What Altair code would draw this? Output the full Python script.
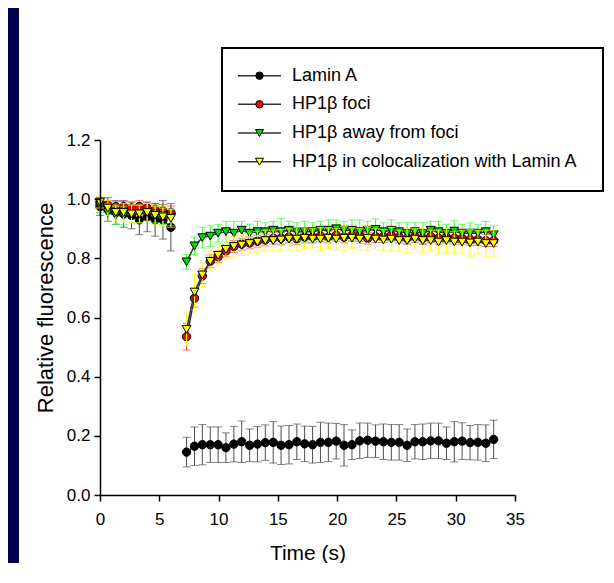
import altair as alt
import pandas as pd

# ---------------- data ----------------
t_pre = [0.00, 0.66, 1.33, 1.99, 2.66, 3.32, 3.98, 4.65, 5.31, 5.98]
t_post = [7.30, 7.97, 8.63, 9.30, 9.96, 10.62, 11.29, 11.95, 12.62, 13.28,
          13.94, 14.61, 15.27, 15.94, 16.60, 17.26, 17.93, 18.59, 19.26, 19.92,
          20.58, 21.25, 21.91, 22.58, 23.24, 23.90, 24.57, 25.23, 25.90, 26.56,
          27.22, 27.89, 28.55, 29.22, 29.88, 30.54, 31.21, 31.87, 32.54, 33.20]

series_names = ["Lamin A", "HP1β foci", "HP1β away from foci",
                "HP1β in colocalization with Lamin A"]

lamin_pre = [0.975, 0.965, 0.955, 0.950, 0.945, 0.930, 0.940, 0.930, 0.930, 0.905]
lamin_pre_err = [0.030, 0.040, 0.040, 0.045, 0.045, 0.050, 0.050, 0.055, 0.065, 0.080]
lamin_post = [0.145, 0.165, 0.170, 0.170, 0.170, 0.160, 0.172, 0.180, 0.168, 0.172,
              0.177, 0.178, 0.168, 0.170, 0.180, 0.173, 0.170, 0.178, 0.178, 0.182,
              0.168, 0.170, 0.183, 0.185, 0.182, 0.180, 0.178, 0.178, 0.168, 0.180,
              0.180, 0.183, 0.183, 0.175, 0.180, 0.182, 0.177, 0.178, 0.175, 0.188]
lamin_post_err = [0.050, 0.065, 0.068, 0.060, 0.060, 0.050, 0.060, 0.070, 0.055, 0.060,
                  0.060, 0.070, 0.065, 0.065, 0.060, 0.060, 0.062, 0.068, 0.065, 0.060,
                  0.070, 0.050, 0.060, 0.058, 0.055, 0.060, 0.060, 0.060, 0.055, 0.058,
                  0.060, 0.060, 0.060, 0.055, 0.068, 0.062, 0.058, 0.060, 0.062, 0.065]

foci_pre = [0.985, 0.980, 0.975, 0.975, 0.970, 0.975, 0.970, 0.965, 0.960, 0.955]
foci_pre_err = [0.015, 0.015, 0.018, 0.018, 0.020, 0.020, 0.020, 0.020, 0.022, 0.022]
foci_post = [0.535, 0.665, 0.740, 0.790, 0.805, 0.825, 0.840, 0.848, 0.852, 0.858,
             0.862, 0.868, 0.868, 0.872, 0.866, 0.872, 0.872, 0.876, 0.872, 0.878,
             0.872, 0.878, 0.878, 0.868, 0.874, 0.874, 0.878, 0.872, 0.868, 0.874,
             0.868, 0.874, 0.868, 0.872, 0.868, 0.868, 0.864, 0.864, 0.860, 0.860]
foci_post_err = [0.045, 0.030, 0.025, 0.022, 0.020, 0.020, 0.020, 0.020, 0.020, 0.020,
                 0.020, 0.020, 0.020, 0.020, 0.020, 0.020, 0.020, 0.020, 0.020, 0.020,
                 0.020, 0.020, 0.020, 0.020, 0.020, 0.020, 0.020, 0.020, 0.020, 0.020,
                 0.020, 0.020, 0.020, 0.020, 0.020, 0.020, 0.020, 0.020, 0.020, 0.020]

away_pre = [0.980, 0.955, 0.945, 0.945, 0.950, 0.950, 0.955, 0.950, 0.945, 0.940]
away_pre_err = [0.025, 0.030, 0.030, 0.030, 0.030, 0.030, 0.030, 0.030, 0.030, 0.030]
away_post = [0.788, 0.842, 0.870, 0.875, 0.885, 0.890, 0.885, 0.895, 0.885, 0.890,
             0.890, 0.895, 0.890, 0.895, 0.890, 0.890, 0.890, 0.895, 0.895, 0.900,
             0.895, 0.895, 0.890, 0.895, 0.898, 0.890, 0.895, 0.890, 0.885, 0.890,
             0.885, 0.895, 0.890, 0.885, 0.892, 0.885, 0.885, 0.885, 0.890, 0.880]
away_post_err = [0.025, 0.030, 0.035, 0.035, 0.030, 0.035, 0.040, 0.030, 0.030, 0.035,
                 0.030, 0.030, 0.045, 0.030, 0.030, 0.035, 0.030, 0.030, 0.035, 0.030,
                 0.030, 0.035, 0.040, 0.030, 0.035, 0.030, 0.035, 0.030, 0.035, 0.030,
                 0.035, 0.030, 0.035, 0.030, 0.035, 0.030, 0.035, 0.030, 0.035, 0.030]

coloc_pre = [0.990, 0.970, 0.955, 0.955, 0.950, 0.950, 0.955, 0.945, 0.940, 0.935]
coloc_pre_err = [0.020, 0.025, 0.025, 0.030, 0.030, 0.030, 0.030, 0.030, 0.030, 0.030]
coloc_post = [0.560, 0.686, 0.744, 0.790, 0.810, 0.830, 0.840, 0.845, 0.850, 0.855,
              0.860, 0.860, 0.862, 0.865, 0.865, 0.868, 0.865, 0.865, 0.868, 0.865,
              0.868, 0.868, 0.865, 0.868, 0.865, 0.862, 0.865, 0.860, 0.860, 0.865,
              0.860, 0.860, 0.855, 0.860, 0.855, 0.855, 0.852, 0.855, 0.850, 0.850]
coloc_post_err = [0.055, 0.060, 0.040, 0.035, 0.035, 0.035, 0.035, 0.035, 0.035, 0.035,
                  0.035, 0.035, 0.035, 0.035, 0.040, 0.035, 0.035, 0.040, 0.035, 0.035,
                  0.040, 0.035, 0.035, 0.040, 0.035, 0.035, 0.040, 0.035, 0.040, 0.035,
                  0.040, 0.035, 0.040, 0.040, 0.035, 0.040, 0.045, 0.040, 0.045, 0.045]

x_ticks = [0, 5, 10, 15, 20, 25, 30, 35]
y_ticks = [0.0, 0.2, 0.4, 0.6, 0.8, 1.0, 1.2]

# ---------------- styles ----------------
NAVY = "#00004d"
FONT = "Liberation Sans"
fills = ["#000000", "#ff0000", "#00dd00", "#ffff00"]
err_colors = ["#4d4d4d", "#ff3333", "#33ff33", "#ffff00"]
shapes = ["circle", "circle", "triangle-down", "triangle-down"]
sizes = [70, 70, 80, 80]


def build(name, pre, pre_err, post, post_err):
    rows = []
    for seg, ts, vs, es in (("pre", t_pre, pre, pre_err), ("post", t_post, post, post_err)):
        for t, v, e in zip(ts, vs, es):
            rows.append({"series": name, "seg": seg, "t": t, "v": v,
                         "lo": v - e, "hi": v + e})
    return pd.DataFrame(rows)


frames = [
    build(series_names[0], lamin_pre, lamin_pre_err, lamin_post, lamin_post_err),
    build(series_names[1], foci_pre, foci_pre_err, foci_post, foci_post_err),
    build(series_names[2], away_pre, away_pre_err, away_post, away_post_err),
    build(series_names[3], coloc_pre, coloc_pre_err, coloc_post, coloc_post_err),
]

W, H = 415, 355

x_axis = alt.Axis(values=x_ticks, format="d", title="Time (s)", grid=False,
                  labelFont=FONT, labelFontSize=17, labelColor="black",
                  titleFont=FONT, titleFontSize=21, titleFontWeight="normal",
                  titleColor="black", tickSize=6, tickColor="black", tickWidth=1.5,
                  domainColor="black", domainWidth=1.5, labelPadding=10,
                  labelFlush=False, titleX=W / 2, titleY=58,
                  titleBaseline="middle", titleAlign="center", zindex=1)
y_axis = alt.Axis(values=y_ticks, format=".1f", title="Relative fluorescence",
                  grid=False, labelFont=FONT, labelFontSize=17, labelColor="black",
                  titleFont=FONT, titleFontSize=22, titleFontWeight="normal",
                  titleColor="black", tickSize=6, tickColor="black", tickWidth=1.5,
                  domainColor="black", domainWidth=1.5, labelPadding=4,
                  labelFlush=False, titleX=-55, titleY=167.5, titleAngle=270,
                  titleBaseline="middle", titleAlign="center", zindex=1)
xs = alt.Scale(domain=[0, 35], nice=False, zero=False)
ys = alt.Scale(domain=[0, 1.2], nice=False, zero=False)

layers = []

# white panel
one = pd.DataFrame({"k": [0]})
layers.append(alt.Chart(one).mark_rect(color="white").encode(
    x=alt.value(-81), x2=alt.value(504), y=alt.value(-140), y2=alt.value(430)))

for i, df in enumerate(frames):
    base = alt.Chart(df)
    x = alt.X("t:Q", scale=xs, axis=x_axis)
    layers.append(base.mark_rule(color=err_colors[i], strokeWidth=1).encode(
        x=x, y=alt.Y("lo:Q", scale=ys, axis=y_axis), y2="hi:Q"))
    for f in ("lo", "hi"):
        layers.append(base.mark_tick(color=err_colors[i], orient="horizontal",
                                     size=8, thickness=1).encode(
            x=x, y=alt.Y(f + ":Q", scale=ys, axis=y_axis)))
    layers.append(base.mark_line(color="#333333", strokeWidth=1.5).encode(
        x=x, y=alt.Y("v:Q", scale=ys, axis=y_axis), detail="seg:N"))
    layers.append(base.mark_point(shape=shapes[i], filled=True, fill=fills[i],
                                  stroke="black", strokeWidth=1, size=sizes[i],
                                  opacity=1).encode(
        x=x, y=alt.Y("v:Q", scale=ys, axis=y_axis)))

# legend box
layers.append(alt.Chart(one).mark_rect(fill="white", stroke="black", strokeWidth=2).encode(
    x=alt.value(122), x2=alt.value(503), y=alt.value(-92), y2=alt.value(51)))

leg_y = [-64.3, -35.7, -7.0, 21.7]
for i, name in enumerate(series_names):
    ld = pd.DataFrame({"label": [name]})
    layers.append(alt.Chart(ld).mark_rule(color="#333333", strokeWidth=1.5).encode(
        x=alt.value(138), x2=alt.value(181), y=alt.value(leg_y[i])))
    layers.append(alt.Chart(ld).mark_point(shape=shapes[i], filled=True, fill=fills[i],
                                           stroke="black", strokeWidth=1,
                                           size=sizes[i] - 15, opacity=1).encode(
        x=alt.value(159.5), y=alt.value(leg_y[i])))
    layers.append(alt.Chart(ld).mark_text(align="left", baseline="middle", font=FONT,
                                          fontSize=18, color="black").encode(
        x=alt.value(192), y=alt.value(leg_y[i]), text="label:N"))

chart = alt.layer(*layers).properties(
    width=W, height=H, background=NAVY,
    autosize=alt.AutoSizeParams(type="none"),
    padding={"left": 92, "top": 132, "right": 89, "bottom": 68},
).configure_view(strokeWidth=0)

chart.save("out.html", embed_options={"renderer": "svg", "actions": False})
